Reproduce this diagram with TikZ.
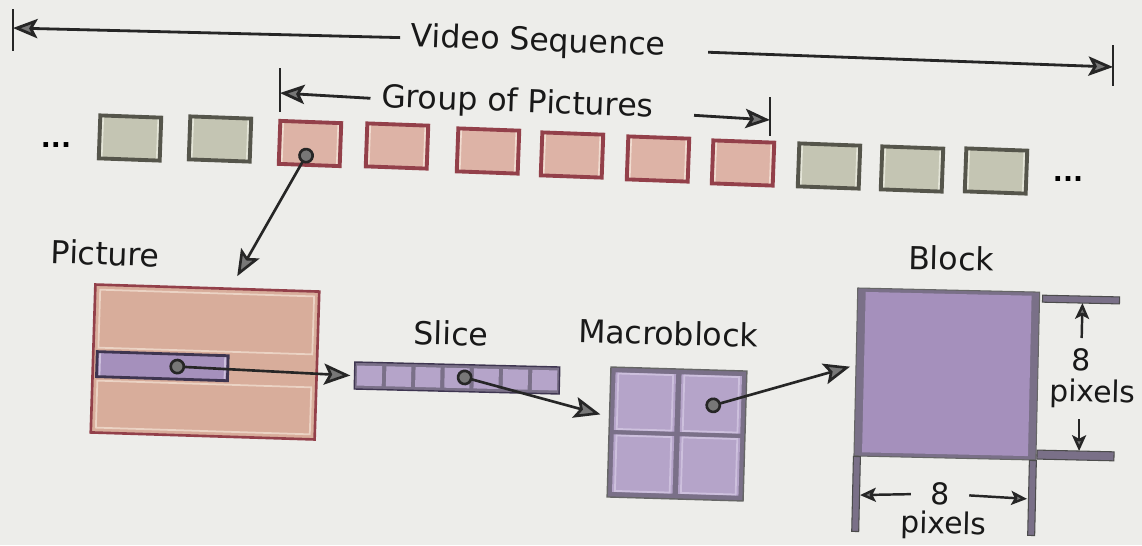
\documentclass[tikz,border=0pt]{standalone}
\usepackage{fontspec}
\setmainfont{DejaVu Sans}
\usetikzlibrary{arrows.meta}

\definecolor{paper}{HTML}{EDEDEA}
\definecolor{gedge}{HTML}{55554B}
\definecolor{gfill}{HTML}{C4C5B3}
\definecolor{grim}{HTML}{E4E5D8}
\definecolor{redge}{HTML}{93404A}
\definecolor{rfill}{HTML}{DDB3A6}
\definecolor{rrim}{HTML}{F0DCD0}
\definecolor{picfill}{HTML}{D8AD9B}
\definecolor{picrim}{HTML}{EBD3C4}
\definecolor{purfill}{HTML}{A590BC}
\definecolor{purrim}{HTML}{CDC0DD}
\definecolor{puredge}{HTML}{3E3550}
\definecolor{mbgray}{HTML}{7A7088}
\definecolor{cellfill}{HTML}{B5A4C9}
\definecolor{tipgray}{HTML}{777777}

\tikzset{
  lbl/.style={font=\fontsize{18}{20}\selectfont, text=black!90, inner sep=0pt, anchor=base},
  dimlbl/.style={lbl, font=\fontsize{17}{19}\selectfont},
  ellip/.style={font=\bfseries\fontsize{15}{15}\selectfont, inner sep=0pt},
  rim/.style={path picture={\draw[#1, line width=1pt]
      ([shift={(1.6pt,1.6pt)}]path picture bounding box.south west) rectangle
      ([shift={(-1.6pt,-1.6pt)}]path picture bounding box.north east);}},
  pbox/.style={rotate=-2.1, minimum width=1.22cm, minimum height=0.86cm, inner sep=0pt,
    line width=2.2pt, rim=#1},
  gbox/.style={pbox=grim, draw=gedge, fill=gfill},
  rbox/.style={pbox=rrim, draw=redge, fill=rfill},
  picbox/.style={draw=redge, fill=picfill, line width=1.5pt, inner sep=0pt,
    minimum width=4.48cm, minimum height=2.96cm},
  stripbox/.style={draw=puredge, fill=purfill, line width=1.6pt, inner sep=0pt,
    minimum width=2.62cm, minimum height=0.5cm, rim=purrim},
  slicebox/.style={draw=puredge, fill=mbgray, line width=0.8pt, inner sep=0pt,
    minimum width=4.1cm, minimum height=0.54cm},
  slicecell/.style={fill=cellfill, inner sep=0pt, minimum width=0.5cm, minimum height=0.4cm},
  mbbox/.style={draw=black!60, fill=mbgray, line width=0.8pt, inner sep=0pt,
    minimum width=2.72cm, minimum height=2.6cm},
  mbcell/.style={fill=cellfill, inner sep=0pt, minimum width=1.21cm, minimum height=1.15cm, rim=purrim},
  blkbox/.style={draw=black!60, fill=mbgray, line width=0.6pt, inner sep=0pt,
    minimum width=3.64cm, minimum height=3.36cm,
    path picture={\fill[purfill] ([shift={(4.5pt,4.5pt)}]path picture bounding box.south west) rectangle
      ([shift={(-4.5pt,-4.5pt)}]path picture bounding box.north east);}},
  dimbar/.style={fill=mbgray, draw=black!70, line width=0.6pt},
  endbar/.style={draw=black!85, line width=1.4pt},
  seqline/.style={draw=black!85, line width=1.6pt,
    -{Stealth[length=14pt,width=11pt,inset=3pt,fill=tipgray]}},
  conn/.style={draw=black!85, line width=1.5pt,
    {Circle[length=9pt,fill=tipgray]}-{Stealth[length=15pt,width=12pt,inset=3pt,fill=tipgray]}},
  dimarrow/.style={draw=black!85, line width=1.4pt, shorten <=6pt,
    -{Stealth[length=9pt,width=8pt,inset=2pt,fill=tipgray]}},
}

\begin{document}
\begin{tikzpicture}[x=0.02cm, y=-0.02cm]
  \useasboundingbox (0,0) rectangle (1142,545);
  \fill[paper] (0,0) rectangle (1142,545);

  % video sequence
  \node[lbl, rotate=-2.1] (vs) at (538,51) {Video Sequence};
  \coordinate (vsL) at (13,28);
  \coordinate (vsR) at (1113,67);
  \draw[endbar] (13,9) -- (13,51);
  \draw[endbar] (1113,45) -- (1113,86);
  \draw[seqline] ([xshift=-6pt]vs.west) -- (vsL);
  \draw[seqline] ([xshift=24pt,yshift=-3pt]vs.east) -- (vsR);

  % group of pictures
  \node[lbl, rotate=-2.1] (gop) at (517,112) {Group of Pictures};
  \coordinate (gopL) at (280,93);
  \coordinate (gopR) at (770,120);
  \draw[endbar] (280,68) -- (280,112);
  \draw[endbar] (770,97) -- (770,136);
  \draw[seqline] ([xshift=-6pt]gop.west) -- (gopL);
  \draw[seqline] ([xshift=23pt,yshift=-4pt]gop.east) -- (gopR);

  % frames
  \node[ellip] (dl) at (56,145) {...};
  \foreach \n/\x/\y in {g1/130/138, g2/220/139, g3/829/166, g4/912/169, g5/996/171}
    \node[gbox] (\n) at (\x,\y) {};
  \foreach \n/\x/\y in {r1/310/143.5, r2/397/146, r3/488/151, r4/572/155, r5/658/159, r6/743/163}
    \node[rbox] (\n) at (\x,\y) {};
  \node[ellip] (dr) at (1068,179) {...};

  % picture
  \node[lbl, rotate=-2] (lpic) at (105,265) {Picture};
  \begin{scope}[rotate around={-1.8:(205,362)}, transform shape]
    \node[picbox] (pic) at (205,362) {};
    \draw[picrim, line width=1pt] (98,293) rectangle (312,351);
    \draw[picrim, line width=1pt] (98,384) rectangle (312,431);
    \node[stripbox] (strip) at (162.5,367.5) {};
  \end{scope}

  % slice
  \node[lbl, rotate=-1.5] (lsl) at (451,345) {Slice};
  \begin{scope}[rotate around={-1.4:(457,378)}, transform shape]
    \node[slicebox] (slice) at (457,378) {};
    \foreach \i in {0,...,6}
      \node[slicecell] (s\i) at ({369.4+29.2*\i},378) {};
  \end{scope}

  % macroblock
  \node[lbl, rotate=-1.5] (lmb) at (668,345) {Macroblock};
  \begin{scope}[rotate around={-1.7:(677,434)}, transform shape]
    \node[mbbox] (mb) at (677,434) {};
    \node[mbcell] (mb1) at (644,403) {};
    \node[mbcell] (mb2) at (710,403) {};
    \node[mbcell] (mb3) at (644,465) {};
    \node[mbcell] (mb4) at (710,465) {};
  \end{scope}

  % block
  \node[lbl, rotate=-1.3] (lblk) at (951,270) {Block};
  \begin{scope}[rotate around={-1.3:(946,410)}, transform shape]
    \node[blkbox] (blk) at (946,374) {};
    \draw[dimbar] (blk.south west) rectangle ++(7,75);
    \draw[dimbar] (blk.south east) rectangle ++(-7,75);
    \draw[dimbar] (1040,293) rectangle (1117,300);
    \draw[dimbar] (1038,448) rectangle (1115,457);
    \coordinate (htop) at (1080,300);
    \coordinate (hbot) at (1080,448);
    \coordinate (wl) at (862,497);
    \coordinate (wr) at (1029,497);
    \node[dimlbl] (h8) at (1080,368) {8};
    \node[dimlbl] (hpx) at (1092,399) {pixels};
    \node[dimlbl] (w8) at (942,505) {8};
    \node[dimlbl] (wpx) at (946,534) {pixels};
  \end{scope}
  \draw[dimarrow] (h8.north) -- (htop);
  \draw[dimarrow] (hpx.south -| hbot) -- (hbot);
  \draw[dimarrow, shorten <=11pt] (w8.west) -- (wl);
  \draw[dimarrow, shorten <=11pt] (w8.east) -- (wr);

  % connectors
  \draw[conn] ([yshift=-3pt]r1.center) -- ([xshift=17pt,yshift=6pt]pic.north);
  \draw[conn] ([xshift=4pt]strip.center) -- ([xshift=-2pt]slice.west);
  \draw[conn] ([yshift=1.5pt]s3.center) -- ([xshift=-4.5pt,yshift=10pt]mb.west);
  \draw[conn] ([xshift=-3pt,yshift=-2pt]mb2.center) -- ([xshift=-3pt,yshift=3pt]blk.west);
\end{tikzpicture}
\end{document}
